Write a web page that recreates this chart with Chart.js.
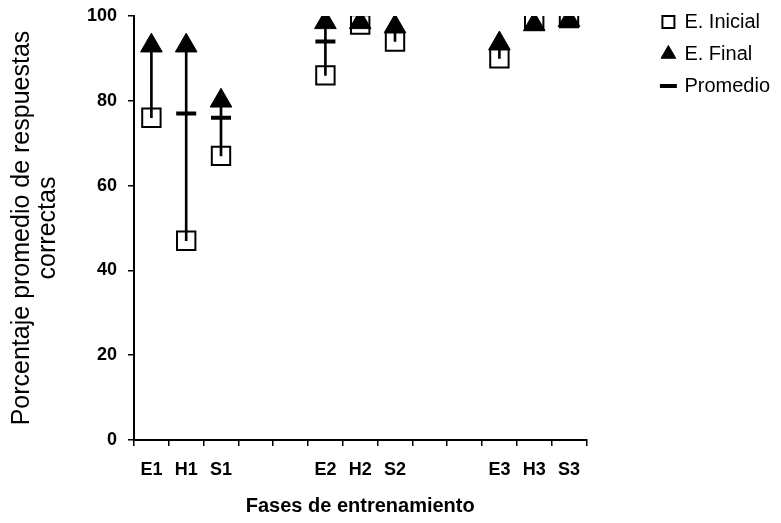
<!DOCTYPE html>
<html>
<head>
<meta charset="utf-8">
<script src="https://cdn.jsdelivr.net/npm/chart.js@4"></script>
<style>
  body { margin: 0; background: #fff; }
</style>
</head>
<body>
<canvas id="grafico" width="781" height="523"></canvas>
<script>
// fases (los huecos separan los bloques de entrenamiento)
const fases = ['E1', 'H1', 'S1', '', '', 'E2', 'H2', 'S2', '', '', 'E3', 'H3', 'S3'];
const inicial = [76, 47, 67, null, null, 86, 98, 94, null, null, 90, 99, 99.5];
const final = [93, 93, 80, null, null, 98.5, 98.5, 97.5, null, null, 93.5, 98, 99];
// solo se ven los promedios de H1, S1 y E2, los demas quedan tapados
const promedio = [null, 77, 76, null, null, 94, null, null, null, null, null, null, null];
const ticksY = [0, 20, 40, 60, 80, 100];

const fuente = 'Arial, "Liberation Sans", sans-serif';
const negro = '#000';

// linea vertical entre evaluacion inicial y final
const rango = inicial.map((v, i) => (v == null || final[i] == null) ? null : [v, final[i]]);

const ctx = document.getElementById('grafico').getContext('2d');
new Chart(ctx, {
  type: 'bar',
  data: {
    labels: fases,
    datasets: [
      {
        type: 'line', label: 'E. Inicial', data: inicial, showLine: false, order: 3,
        pointStyle: 'rect', pointRadius: 13, pointBorderWidth: 2,
        pointBackgroundColor: '#fff', pointBorderColor: negro,
        backgroundColor: '#fff', borderColor: negro
      },
      {
        type: 'line', label: 'E. Final', data: final, showLine: false, order: 0,
        pointStyle: 'triangle', pointRadius: 12.5, pointBorderWidth: 1,
        pointBackgroundColor: negro, pointBorderColor: negro,
        backgroundColor: negro, borderColor: negro
      },
      {
        type: 'line', label: 'Promedio', data: promedio, showLine: false, order: 1,
        pointStyle: 'line', pointRadius: 10, pointBorderWidth: 4,
        pointBackgroundColor: negro, pointBorderColor: negro,
        backgroundColor: negro, borderColor: negro
      },
      {
        type: 'bar', label: '', data: rango, order: 2,
        backgroundColor: negro, barThickness: 2, borderWidth: 0
      }
    ]
  },
  options: {
    responsive: false,
    animation: false,
    layout: { padding: { left: 0, right: 1, top: 0, bottom: 0 } },
    plugins: {
      tooltip: { enabled: false },
      legend: {
        position: 'right',
        align: 'start',
        labels: {
          usePointStyle: true,
          boxWidth: 12,
          boxHeight: 12,
          padding: 12,
          color: negro,
          font: { family: fuente, size: 20 },
          filter: (item) => item.text !== '',
          sort: (a, b) => a.datasetIndex - b.datasetIndex
        }
      }
    },
    scales: {
      x: {
        offset: true,
        grid: { offset: true, drawOnChartArea: false, color: negro, lineWidth: 1.5, tickLength: 6 },
        border: { display: true, color: negro, width: 2 },
        ticks: { color: negro, padding: 13, font: { family: fuente, size: 18, weight: 'bold' } },
        title: {
          display: true, text: 'Fases de entrenamiento', color: negro,
          font: { family: fuente, size: 20, weight: 'bold', lineHeight: 1.2 },
          padding: { top: 0, bottom: 5 }
        },
        afterFit: (s) => { s.height = 83; }
      },
      y: {
        min: 0, max: 100,
        afterBuildTicks: (s) => { s.ticks = ticksY.map(v => ({ value: v })); },
        grid: { drawOnChartArea: false, color: negro, lineWidth: 1.5, tickLength: 6 },
        border: { display: true, color: negro, width: 2 },
        ticks: { color: negro, padding: 11, font: { family: fuente, size: 18, weight: 'bold' } },
        title: {
          display: true, text: ['Porcentaje promedio de respuestas', 'correctas'], color: negro,
          font: { family: fuente, size: 25, lineHeight: 1.04 },
          padding: { top: 9, bottom: 0 }
        },
        afterFit: (s) => { s.width = 134; s.paddingTop = 16; }
      },
      hueco: {
        type: 'linear', position: 'right', display: true,
        grid: { display: false }, border: { display: false }, ticks: { display: false },
        afterFit: (s) => { s.width = 64; }
      }
    }
  }
});
</script>
</body>
</html>
